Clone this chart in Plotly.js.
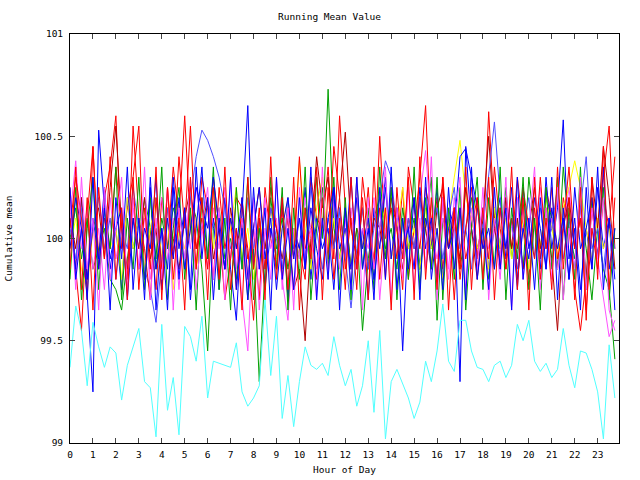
<!DOCTYPE html>
<html>
<head>
<meta charset="utf-8">
<script src="https://cdn.plot.ly/plotly-3.0.1.min.js"></script>
<style>html,body{margin:0;padding:0;background:#fff}#chart{width:640px;height:480px}</style>
</head>
<body>
<div id="chart"></div>
<script>
const hours = [0,0.25,0.5,0.75,1,1.25,1.5,1.75,2,2.25,2.5,2.75,3,3.25,3.5,3.75,4,4.25,4.5,4.75,5,5.25,5.5,5.75,6,6.25,6.5,6.75,7,7.25,7.5,7.75,8,8.25,8.5,8.75,9,9.25,9.5,9.75,10,10.25,10.5,10.75,11,11.25,11.5,11.75,12,12.25,12.5,12.75,13,13.25,13.5,13.75,14,14.25,14.5,14.75,15,15.25,15.5,15.75,16,16.25,16.5,16.75,17,17.25,17.5,17.75,18,18.25,18.5,18.75,19,19.25,19.5,19.75,20,20.25,20.5,20.75,21,21.25,21.5,21.75,22,22.25,22.5,22.75,23,23.25,23.5,23.75];

const red1 = [100.25,99.85,99.55,100.10,100.45,99.90,100.20,100.35,100.60,99.95,100.15,100.30,
100.55,99.80,100.05,99.75,100.20,99.95,100.35,100.10,100.60,100.05,99.85,100.30,
100.15,99.80,100.25,99.95,100.10,99.75,100.20,99.90,100.05,99.70,100.25,100.00,
99.85,100.15,99.70,100.05,99.95,99.80,100.30,100.10,100.05,100.35,99.90,100.60,
100.15,99.85,100.05,99.95,100.25,99.85,100.50,100.00,100.15,99.90,100.25,99.80,
100.05,100.30,100.65,99.95,100.20,99.85,100.10,99.70,100.15,99.90,100.05,100.20,
99.95,100.62,100.10,99.85,100.20,99.95,100.30,100.05,99.80,100.15,99.90,100.25,
100.10,99.85,100.20,100.05,99.75,99.55,99.80,100.15,99.90,100.30,100.55,99.95];

const green = [100.00,100.15,99.90,100.10,99.85,99.95,100.05,99.80,99.75,99.65,99.90,100.10,
99.95,100.20,100.05,99.85,100.10,99.95,100.15,100.05,99.90,100.20,100.10,99.85,
99.45,100.05,100.15,99.90,100.00,99.80,100.10,99.70,99.95,99.30,99.85,100.20,
99.95,100.10,99.85,100.05,99.90,100.15,99.85,100.30,100.00,100.73,100.05,99.90,
100.15,99.85,100.05,99.55,99.90,100.10,100.20,99.95,100.05,99.85,100.15,99.95,
100.10,99.85,100.05,100.30,99.60,100.10,99.95,100.15,99.85,100.05,100.20,99.95,
100.05,99.80,100.15,99.95,100.25,99.90,100.10,99.85,100.30,100.05,99.95,100.20,
100.10,99.85,100.35,100.05,99.90,100.15,99.95,99.70,100.05,99.85,99.75,99.41];

const blue1 = [100.10,99.85,100.20,99.70,99.25,100.53,100.15,99.90,100.05,99.75,100.20,99.95,
100.10,99.80,100.25,99.65,100.05,99.85,100.30,99.95,100.15,99.70,100.05,100.35,
99.90,100.10,99.75,100.20,99.85,99.60,100.15,100.65,99.85,100.10,99.75,100.05,
99.90,100.20,99.70,100.05,99.95,100.25,99.80,100.10,99.95,100.05,99.75,100.15,
99.90,100.30,99.85,100.05,99.70,100.15,99.95,100.25,99.90,100.10,99.45,100.05,
100.20,99.85,100.10,99.95,100.25,99.80,100.05,100.15,99.30,100.45,100.05,99.90,
100.15,99.85,100.05,100.20,99.90,100.10,99.75,100.25,99.95,100.10,99.85,100.30,
99.95,100.15,100.58,99.90,100.10,99.75,100.05,99.85,100.25,99.95,100.10,99.65];

const magenta = [100.10,100.38,99.95,100.15,99.85,100.05,99.75,100.20,99.90,100.05,99.80,100.15,
99.95,100.10,99.80,100.05,100.20,99.90,100.10,99.75,100.15,99.95,100.25,100.05,
99.85,100.15,99.95,100.25,99.90,100.05,99.70,99.45,100.05,99.85,100.20,99.95,
100.10,99.80,99.60,100.05,99.90,100.20,100.05,99.85,100.10,99.95,100.25,100.05,
99.90,100.15,99.85,100.05,99.95,100.20,99.70,100.05,99.90,100.15,99.95,100.10,
99.85,100.20,100.43,100.05,99.90,100.10,99.85,100.20,99.95,100.05,100.30,99.90,
100.15,99.95,100.05,99.80,100.20,100.05,99.90,100.15,99.85,100.05,100.25,99.95,
100.10,99.85,100.05,100.25,99.95,100.15,99.80,100.05,99.90,99.70,99.52,99.60];

const cyan = [99.37,99.67,99.55,99.28,99.59,99.47,99.37,99.47,99.44,99.21,99.38,99.47,
99.56,99.30,99.27,99.03,99.58,99.16,99.32,99.04,99.57,99.52,99.40,99.62,
99.22,99.40,99.39,99.38,99.37,99.49,99.25,99.18,99.22,99.28,99.70,99.33,
99.62,99.12,99.33,99.08,99.30,99.47,99.38,99.36,99.39,99.33,99.52,99.38,
99.28,99.36,99.18,99.28,99.50,99.15,99.55,99.02,99.30,99.36,99.29,99.22,
99.12,99.20,99.40,99.30,99.45,99.68,99.40,99.35,99.60,99.60,99.45,99.37,
99.36,99.30,99.38,99.40,99.32,99.38,99.58,99.50,99.60,99.40,99.35,99.39,
99.32,99.36,99.56,99.38,99.27,99.45,99.44,99.36,99.25,99.02,99.48,99.22];

const yellow = [99.95,100.10,99.85,99.75,100.05,99.90,100.15,99.95,100.05,99.80,100.20,99.95,
100.10,99.85,100.05,100.20,99.90,100.10,99.75,100.05,99.95,100.15,99.85,100.05,
100.20,99.95,100.10,99.85,100.05,100.25,99.90,100.05,99.80,100.10,99.95,100.15,
99.90,100.05,100.20,99.95,100.38,100.05,99.85,100.15,100.30,99.95,100.10,99.90,
100.05,99.85,100.20,99.95,100.10,99.80,100.05,100.15,99.90,100.05,100.25,99.95,
100.05,99.85,100.15,99.95,100.05,99.80,100.10,100.30,100.48,100.20,100.10,99.95,
100.05,99.85,100.15,99.95,100.10,99.90,100.20,100.05,99.85,100.10,99.95,100.20,
100.05,99.90,100.15,100.25,100.38,100.25,100.05,99.90,100.10,99.95,100.05,99.85];

const darkred = [100.10,99.95,100.20,99.80,100.05,100.15,99.90,100.25,100.55,100.05,99.85,100.10,
99.95,100.20,99.90,100.05,99.75,100.15,100.00,99.85,100.10,100.25,99.95,100.05,
100.20,99.90,100.05,99.85,100.15,99.95,100.10,99.80,100.05,100.25,99.95,100.15,
100.05,99.90,100.10,99.75,99.85,99.50,100.00,100.40,100.15,100.30,99.95,100.20,
100.52,100.05,99.90,100.15,99.85,100.10,100.05,99.90,100.20,100.05,99.85,100.10,
99.95,100.20,100.05,99.85,100.15,100.25,99.95,100.10,99.90,100.25,100.05,99.80,
100.10,100.50,100.05,99.90,100.20,99.95,100.10,99.85,100.05,100.25,99.95,100.15,
99.90,99.55,100.05,100.20,99.95,100.10,99.80,100.30,100.05,100.45,100.20,99.85];

const lightblue = [100.05,99.90,100.15,99.85,100.05,100.20,99.95,100.10,99.80,100.05,99.95,100.25,
100.05,99.85,99.75,99.59,99.90,100.15,99.95,100.05,99.85,100.20,100.40,100.53,
100.48,100.40,100.30,100.15,99.95,100.05,99.85,100.20,99.95,100.10,99.85,100.15,
100.00,99.85,100.20,99.95,100.10,99.90,100.25,100.05,99.85,100.10,99.95,100.15,
99.90,99.66,99.95,100.15,99.85,100.05,100.20,100.38,100.30,100.05,99.90,100.10,
99.95,100.20,99.85,100.05,100.15,99.90,100.10,100.25,99.95,100.05,99.85,100.15,
100.05,100.30,100.57,100.20,99.95,100.10,99.85,100.05,100.20,99.90,100.15,99.95,
100.05,100.25,99.90,100.10,99.85,100.15,100.40,99.95,100.05,99.85,100.10,99.95];

const red2 = [100.05,100.30,100.10,99.70,100.45,99.85,100.10,99.95,100.35,100.05,99.80,100.55,
100.10,99.95,99.70,100.20,99.85,100.25,99.90,100.40,100.05,100.55,99.95,100.10,
99.85,100.30,100.05,99.70,99.90,100.20,100.15,99.95,99.60,100.10,99.85,100.25,
100.05,99.80,100.15,99.90,100.40,99.95,100.05,99.80,100.20,99.90,100.45,100.20,
99.85,100.10,99.75,100.30,100.05,99.90,100.15,99.80,100.25,100.05,99.75,100.35,
100.15,99.95,100.25,100.10,99.80,100.30,99.95,100.15,99.80,100.05,100.25,99.90,
100.15,99.90,100.35,100.05,99.85,100.10,99.95,100.25,100.05,99.90,100.30,99.95,
100.25,99.90,100.05,100.35,99.95,100.10,99.65,100.05,99.85,100.20,100.05,100.40];

const blue2 = [99.95,100.20,100.05,99.80,100.10,99.90,100.25,99.85,100.05,100.15,99.70,100.10,
99.85,100.05,99.95,100.30,99.75,100.10,99.90,100.20,99.85,100.05,100.25,100.15,
100.05,100.30,100.05,99.85,100.10,99.95,100.20,99.80,100.05,100.25,99.90,100.10,
99.75,100.05,100.20,99.90,100.10,99.85,100.15,99.95,99.80,100.10,100.25,99.95,
100.05,99.85,100.20,99.95,100.10,99.80,100.05,100.30,99.90,100.15,99.95,100.05,
99.85,100.25,99.95,100.10,99.80,100.20,99.95,100.05,100.40,100.44,100.30,100.15,
99.95,100.05,99.85,100.15,99.95,100.25,99.80,100.05,99.90,100.20,100.05,99.85,
100.15,99.95,100.10,99.80,100.25,99.95,100.05,100.20,99.90,100.35,99.85,100.05];

const green2 = [99.80,100.25,99.70,100.05,100.30,99.75,100.15,99.95,100.35,99.70,100.10,99.85,
100.30,99.75,100.20,99.90,100.35,99.70,100.05,100.25,99.80,100.15,99.65,100.20,
99.90,100.35,99.75,100.10,99.65,100.25,99.85,100.30,99.70,100.05,99.75,100.30,
99.85,100.25,99.65,100.15,99.80,100.35,99.70,100.05,100.25,99.85,100.30,99.75,
100.20,99.70,100.30,99.85,100.15,99.75,100.35,99.90,100.25,99.70,100.10,99.80,
100.35,99.75,100.20,99.85,100.30,99.70,100.15,99.80,100.25,99.65,100.05,100.30,
99.75,100.20,99.85,100.35,99.70,100.15,99.90,100.30,99.75,100.10,99.65,100.25,
99.85,100.30,99.70,100.15,99.80,100.35,99.75,100.20,99.90,100.25,99.70,100.05];

const magenta2 = [100.20,99.75,100.30,99.85,100.10,99.65,100.25,99.80,100.05,100.30,99.75,100.20,
99.85,100.35,99.70,100.10,99.80,100.25,99.65,100.15,99.90,100.30,99.75,100.05,
100.25,99.80,100.15,99.70,100.30,99.85,100.10,99.75,100.20,99.65,100.05,99.80,
100.30,99.75,100.15,99.65,100.25,99.90,100.05,99.70,100.35,99.80,100.20,99.85,
100.10,99.75,100.30,99.65,100.20,99.85,100.05,100.35,99.70,100.15,99.80,100.25,
99.75,100.10,99.85,100.40,99.70,100.20,99.80,100.05,100.30,99.75,100.15,99.85,
100.25,99.70,100.10,99.90,100.30,99.65,100.20,99.80,100.05,100.35,99.75,100.15,
99.80,100.25,99.70,100.05,99.85,100.30,99.75,100.15,99.90,100.20,99.65,99.55];

const red3 = [99.85,100.35,99.75,100.20,99.65,100.25,99.90,100.40,99.80,100.15,99.70,100.30,
99.75,100.15,99.85,100.35,99.70,100.25,99.80,100.10,99.65,100.30,99.85,100.20,
99.70,100.25,99.80,100.35,99.75,100.05,99.65,100.30,99.85,100.15,99.70,100.40,
99.80,100.20,99.75,100.30,99.65,100.15,99.90,100.35,99.70,100.25,99.80,100.10,
99.75,100.30,99.85,100.20,99.70,100.35,99.80,100.15,99.65,100.25,99.90,100.30,
99.70,100.40,99.80,100.20,99.75,100.30,99.65,100.15,99.85,100.35,99.75,100.20,
99.80,100.30,99.70,100.15,99.85,100.35,99.75,100.20,99.65,100.30,99.80,100.10,
99.75,100.35,99.85,100.20,99.70,100.25,99.60,100.30,99.80,100.45,99.75,100.20];

const blue3 = [100.25,99.80,100.05,99.70,100.30,99.85,100.15,99.65,100.20,99.90,100.35,99.75,
100.10,99.70,100.30,99.85,100.05,99.65,100.25,99.80,100.15,99.75,100.35,99.90,
100.20,99.70,100.10,99.85,100.30,99.75,100.05,99.70,100.25,99.85,100.15,99.65,
100.30,99.80,100.05,99.75,100.20,99.85,100.35,99.70,100.10,99.80,100.25,99.65,
100.15,99.75,100.30,99.85,100.05,99.70,100.25,99.80,100.35,99.75,100.10,99.85,
100.20,99.70,100.30,99.80,100.05,99.75,100.25,99.85,100.15,99.70,100.35,99.80,
100.05,99.75,100.25,99.85,100.15,99.65,100.30,99.80,100.10,99.75,100.20,99.85,
100.30,99.70,100.15,99.80,100.05,99.65,100.25,99.85,100.35,99.75,100.10,99.80];

const seriesList = [
  {y: red1, color: '#ff0000'},
  {y: green, color: '#00a000'},
  {y: blue1, color: '#0000ff'},
  {y: magenta, color: '#ff50ff'},
  {y: cyan, color: '#50ffff'},
  {y: yellow, color: '#ffff00'},
  {y: darkred, color: '#b00000'},
  {y: lightblue, color: '#5050ff'},
  {y: red2, color: '#ff0000'},
  {y: green2, color: '#00a000'},
  {y: blue2, color: '#0000ff'},
  {y: magenta2, color: '#ff50ff'},
  {y: red3, color: '#ff0000'},
  {y: blue3, color: '#0000ff'}
];

const traces = seriesList.map(s => ({
  x: hours, y: s.y, type: 'scatter', mode: 'lines',
  line: {color: s.color, width: 1}, hoverinfo: 'skip'
}));

const font = {family: 'DejaVu Sans Mono, monospace', size: 9.5, color: '#000'};
const layout = {
  width: 640, height: 480,
  margin: {l: 70, r: 21, t: 34, b: 37},
  paper_bgcolor: '#fff', plot_bgcolor: '#fff',
  showlegend: false,
  font: font,
  title: {text: 'Running Mean Value', font: font, x: 0.515, xref: 'container', y: 0.965, yref: 'container', yanchor: 'middle'},
  xaxis: {
    range: [0, 23.93], tick0: 0, dtick: 1, ticks: 'inside', ticklen: 5,
    mirror: 'ticks', showline: true, linecolor: '#000', linewidth: 1,
    showgrid: false, zeroline: false, tickfont: font, ticklabelstandoff: 3,
    title: {text: 'Hour of Day', font: font, standoff: 6}
  },
  yaxis: {
    range: [99, 101], tick0: 99, dtick: 0.5, ticks: 'inside', ticklen: 5,
    mirror: 'ticks', showline: true, linecolor: '#000', linewidth: 1,
    showgrid: false, zeroline: false, tickfont: font, ticklabelstandoff: 4,
    title: {text: 'Cumulative mean', font: font, standoff: 20}
  }
};

Plotly.newPlot('chart', traces, layout, {staticPlot: true, displayModeBar: false});
</script>
</body>
</html>
